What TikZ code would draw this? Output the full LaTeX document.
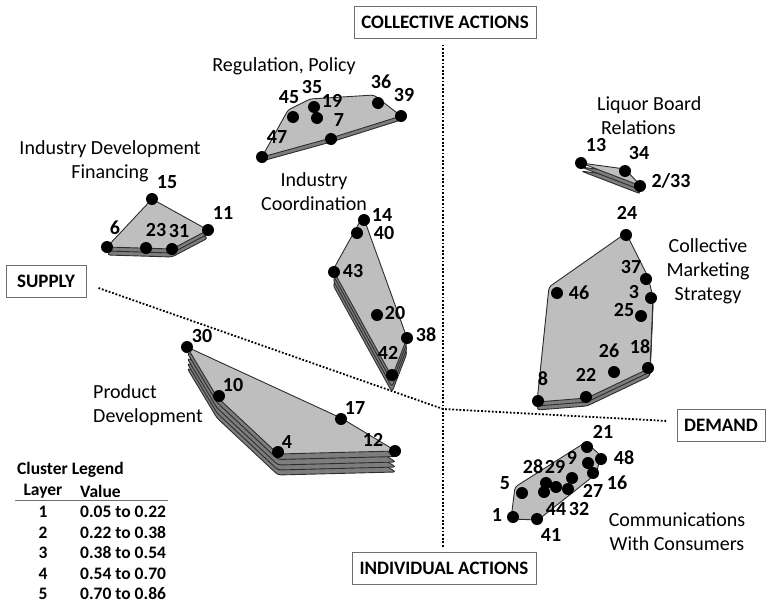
\documentclass[tikz,border=0pt]{standalone}
\usepackage{fontspec}
\setmainfont{Carlito}
\definecolor{topgray}{RGB}{190,190,190}
\definecolor{laygray}{RGB}{125,125,125}
\definecolor{edgegray}{RGB}{45,45,45}
\definecolor{boxgray}{RGB}{110,110,110}
% stacked layers under a cluster hull: #1 = list of downward shifts, #2 = hull path
\newcommand\stackunder[2]{%
  \foreach \s in {#1}{\draw[layerfill, yshift={-\s pt}] #2 -- cycle;}}
\begin{document}
\begin{tikzpicture}[x=1pt,y=-1pt,
  layerfill/.style={fill=laygray, draw=edgegray, line width=0.9pt, line join=round, rounded corners=3pt},
  hull/.style={fill=topgray, draw=edgegray, line width=0.9pt, line join=round, rounded corners=3pt},
  pt/.style={circle, fill=black, inner sep=0pt, minimum size=12pt},
  num/.style={font=\fontsize{20}{22}\selectfont\bfseries, inner sep=0pt},
  ttl/.style={font=\fontsize{20}{24}\selectfont, align=center, inner sep=0pt},
  axisbox/.style={draw=boxgray, line width=1pt, font=\fontsize{19}{22}\selectfont\bfseries, inner sep=0pt, minimum height=32pt},
  axisline/.style={line width=1.8pt, dash pattern=on 1.8pt off 1.8pt},
  leg/.style={font=\fontsize{17.5}{19}\selectfont\bfseries, inner sep=0pt}
]
\useasboundingbox (0,0) rectangle (766,608);

% ---- axes ----
\node[axisbox, minimum width=182pt] (ca) at (445,22) {COLLECTIVE ACTIONS};
\node[axisbox, minimum width=184pt] (ia) at (444,568) {INDIVIDUAL ACTIONS};
\node[axisbox, minimum width=80pt, minimum height=32pt] (sup) at (46,281) {SUPPLY};
\node[axisbox, minimum width=88pt, minimum height=32pt] (dem) at (721,425) {DEMAND};
\coordinate (cross) at (443,409);
\draw[axisline] ([yshift=-6pt]ca.south -| cross) -- ([yshift=4pt]ia.north -| cross);
\draw[axisline] ([shift={(12pt,-7pt)}]sup.east) -- (cross) -- ([shift={(-9pt,4pt)}]dem.west);

% ---- Regulation, Policy ----
\def\hreg{(262,157) -- (288,110) -- (310,99) -- (374,95) -- (401,116) -- (331,138)}
\stackunder{4}{\hreg}
\draw[hull] \hreg -- cycle;
\foreach \n/\p in {47/{262,157},45/{293,117},35/{314,107},19/{317,118},36/{378,103},39/{401,116},7/{331,139}}
  \node[pt] (r\n) at (\p) {};
\node[num] (l45) at (289,97) {45};
\node[num] (l35) at (312,87) {35};
\node[num] (l19) at (332,101) {19};
\node[num] (l7) at (339,120) {7};
\node[num] (l36) at (381,82) {36};
\node[num] (l39) at (404,95) {39};
\node[num] (l47) at (277,137) {47};
\node[ttl] (treg) at (284,66) {Regulation, Policy};

% ---- Industry Development Financing ----
\def\hfin{(107,247) -- (152,199) -- (208,230) -- (172,249)}
\stackunder{8,4}{\hfin}
\draw[hull] \hfin -- cycle;
\foreach \n/\p in {15/{152,199},11/{208,230},6/{107,247},23/{146,248},31/{172,249}}
  \node[pt] (f\n) at (\p) {};
\node[num] (l15) at (167,182) {15};
\node[num] (l11) at (223,213) {11};
\node[num] (l6) at (115,228) {6};
\node[num] (l23) at (156,230) {23};
\node[num] (l31) at (179,231) {31};
\node[ttl] (tfin) at (110,161) {Industry Development\\Financing};

% ---- Industry Coordination ----
\def\hcoo{(363,216) -- (333,270) -- (392,377) -- (407,338)}
\stackunder{15,10,5}{\hcoo}
\draw[hull] \hcoo -- cycle;
\foreach \n/\p in {14/{364,220},40/{357,233},43/{334,272},20/{377,315},38/{407,338},42/{392,375}}
  \node[pt] (c\n) at (\p) {};
\node[num] (l14) at (382,215) {14};
\node[num] (l40) at (384,233) {40};
\node[num] (l43) at (353,271) {43};
\node[num] (l20) at (395,313) {20};
\node[num] (l38) at (426,335) {38};
\node[num] (l42) at (388,353) {42};
\node[ttl] (tcoo) at (314,192) {Industry\\Coordination};

% ---- Liquor Board Relations ----
\def\hliq{(581,163) -- (625,169) -- (641,186)}
\stackunder{8,4}{\hliq}
\draw[hull] \hliq -- cycle;
\foreach \n/\p in {13/{581,163},34/{625,171},233/{640,186}}
  \node[pt] (q\n) at (\p) {};
\node[num] (l13) at (596,145) {13};
\node[num] (l34) at (639,153) {34};
\node[num] (l233) at (671,181) {2/33};
\node[ttl, align=left, anchor=west] (tliq) at (597,116) {Liquor Board\\\hspace*{4pt}Relations};

% ---- Collective Marketing Strategy ----
\def\hmkt{(626,233) -- (648,277) -- (653,297) -- (650,368) -- (587,398) -- (537,402) -- (549,287)}
\stackunder{8,4}{\hmkt}
\draw[hull] \hmkt -- cycle;
\foreach \n/\p in {24/{626,235},37/{646,279},3/{651,298},25/{641,316},46/{557,293},26/{614,372},18/{648,368},22/{586,397},8/{538,401}}
  \node[pt] (m\n) at (\p) {};
\node[num] (l24) at (627,213) {24};
\node[num] (l37) at (631,267) {37};
\node[num] (l3) at (634,292) {3};
\node[num] (l25) at (624,310) {25};
\node[num] (l46) at (579,293) {46};
\node[num] (l26) at (609,351) {26};
\node[num] (l18) at (640,347) {18};
\node[num] (l22) at (586,375) {22};
\node[num] (l8) at (543,379) {8};
\node[ttl] (tmkt) at (708,271) {Collective\\Marketing\\Strategy};

% ---- Communications With Consumers ----
\def\hcom{(511,519) -- (515,487) -- (586,442) -- (601,456) -- (596,474) -- (538,520)}
\draw[hull] \hcom -- cycle;
\foreach \n/\p in {21/{587,447},48/{601,459},9/{588,463},16/{593,473},27/{572,478},28/{546,483},29/{556,487},44/{544,492},32/{568,489},5/{522,493},1/{513,517},41/{537,519}}
  \node[pt] (w\n) at (\p) {};
\node[num] (l21) at (603,432) {21};
\node[num] (l48) at (624,458) {48};
\node[num] (l9) at (572,458) {9};
\node[num] (l28) at (533,467) {28};
\node[num] (l29) at (555,467) {29};
\node[num] (l16) at (617,483) {16};
\node[num] (l27) at (593,491) {27};
\node[num] (l5) at (505,483) {5};
\node[num] (l44) at (556,509) {44};
\node[num] (l32) at (579,509) {32};
\node[num] (l1) at (497,515) {1};
\node[num] (l41) at (551,535) {41};
\node[ttl] (tcom) at (677,532) {Communications\\With Consumers};

% ---- Product Development ----
\def\hpro{(187,347) -- (341,418) -- (396,451) -- (278,454) -- (217,397)}
\stackunder{21,16,11,5.5}{\hpro}
\draw[hull] \hpro -- cycle;
\foreach \n/\p in {30/{187,347},10/{219,396},17/{341,419},4/{278,452},12/{395,451}}
  \node[pt] (p\n) at (\p) {};
\node[num] (l30) at (202,336) {30};
\node[num] (l10) at (233,385) {10};
\node[num] (l17) at (355,408) {17};
\node[num] (l4) at (287,442) {4};
\node[num] (l12) at (373,440) {12};
\node[ttl, align=left, anchor=west] (tpro) at (93,405) {Product\\Development};

% ---- legend ----
\node[leg, anchor=west] (lgt) at (17,470) {Cluster Legend};
\node[leg] (lgl) at (43,491) {Layer};
\node[leg, anchor=west] (lgv) at (80,491) {Value};
\draw[boxgray, line width=0.8pt] (15,500) coordinate (rulea) -- (168,500) coordinate (ruleb);
\foreach \k/\v [count=\i] in {1/0.05 to 0.22,2/0.22 to 0.38,3/0.38 to 0.54,4/0.54 to 0.70,5/0.70 to 0.86}{
  \node[leg] (lk\i) at (43,{491.5+20.5*\i}) {\k};
  \node[leg, anchor=west] (lv\i) at (80,{491.5+20.5*\i}) {\v};
}
\end{tikzpicture}
\end{document}
